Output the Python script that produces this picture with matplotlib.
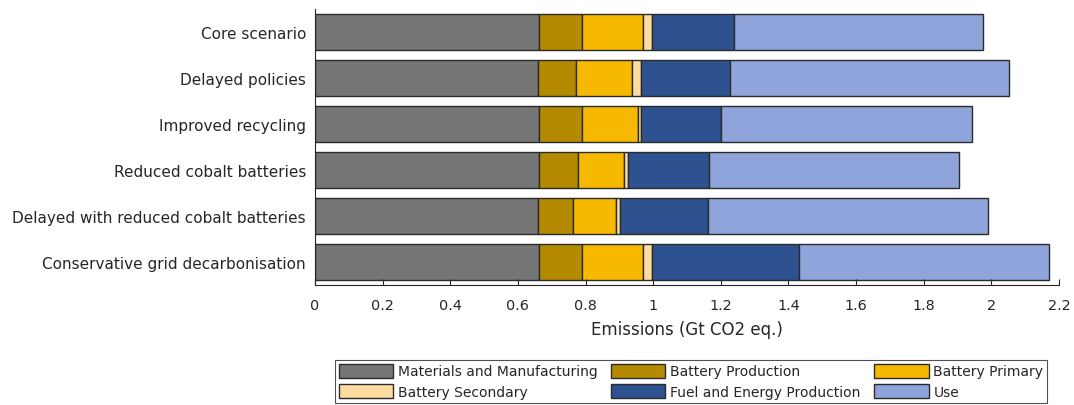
import numpy as np
import matplotlib.pyplot as plt
from matplotlib.patches import Patch

plt.rcParams['font.family'] = ['DejaVu Sans']

scenarios = ["Core scenario", "Delayed policies", "Improved recycling",
             "Reduced cobalt batteries", "Delayed with reduced cobalt batteries",
             "Conservative grid decarbonisation"]

categories = ["Materials and Manufacturing", "Battery Production", "Battery Primary",
              "Battery Secondary", "Fuel and Energy Production", "Use"]

# segment values (Gt CO2 eq.) per scenario
materials = [0.663, 0.659, 0.663, 0.663, 0.659, 0.663]
battery_production = [0.126, 0.114, 0.126, 0.114, 0.103, 0.126]
battery_primary = [0.181, 0.165, 0.165, 0.137, 0.129, 0.182]
battery_secondary = [0.026, 0.027, 0.011, 0.011, 0.011, 0.025]
fuel_energy = [0.242, 0.261, 0.237, 0.241, 0.261, 0.434]
use = [0.736, 0.826, 0.740, 0.738, 0.826, 0.740]

series = [materials, battery_production, battery_primary,
          battery_secondary, fuel_energy, use]
colors = ["#767676", "#B38A00", "#F6B900", "#FDDCA2", "#2E5190", "#8FA4DB"]
edge = "#2b2b2b"
text_col = "#262626"

fig = plt.figure(figsize=(10.74, 4.06), dpi=100)
ax = fig.add_axes([315 / 1074, 1 - 286 / 406, (1059 - 315) / 1074, (286 - 10) / 406])

y = np.arange(len(scenarios))
left = np.zeros(len(scenarios))
for vals, c in zip(series, colors):
    ax.barh(y, vals, left=left, height=0.8, color=c, edgecolor=edge, linewidth=1.0)
    left += np.array(vals)

ax.set_ylim(len(scenarios) - 0.5, -0.5)
ax.set_xlim(0, 2.2)
ax.set_xticks(np.arange(0, 2.21, 0.2))
ax.set_xticklabels(["0", "0.2", "0.4", "0.6", "0.8", "1", "1.2", "1.4", "1.6", "1.8", "2", "2.2"])
ax.set_yticks(y)
ax.set_yticklabels(scenarios)
ax.tick_params(axis='x', direction='in', length=4, colors=text_col, labelsize=10.4, pad=9)
ax.tick_params(axis='y', length=0, colors=text_col, labelsize=11, pad=6.5)
ax.set_xlabel("Emissions (Gt CO2 eq.)", fontsize=12, color=text_col, labelpad=6)
for s in ['top', 'right']:
    ax.spines[s].set_visible(False)
for s in ['left', 'bottom']:
    ax.spines[s].set_color(text_col)
    ax.spines[s].set_linewidth(0.8)

handles = [Patch(facecolor=c, edgecolor=edge, linewidth=1.0, label=l)
           for c, l in zip(colors, categories)]
# matplotlib fills legend columns first; reorder so rows read across
order = [0, 3, 1, 4, 2, 5]
leg = fig.legend([handles[i] for i in order], [categories[i] for i in order],
                 ncol=3, loc='upper center', bbox_to_anchor=(691 / 1074, 1 - 361 / 406),
                 frameon=True, fancybox=False, fontsize=10, handlelength=3.9,
                 handleheight=1.15, handletextpad=0.35, columnspacing=1.0,
                 labelspacing=0.43, borderpad=0.28, borderaxespad=0)
leg.get_frame().set_edgecolor(text_col)
leg.get_frame().set_linewidth(0.8)
for t in leg.get_texts():
    t.set_color(text_col)

fig.savefig("out.png", dpi=100)
